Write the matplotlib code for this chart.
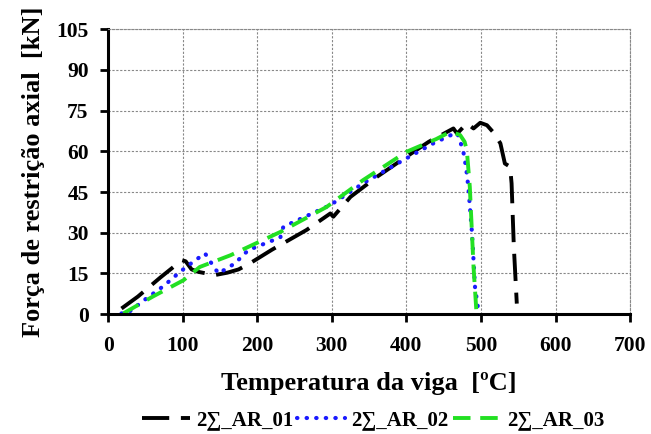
import matplotlib.pyplot as plt

plt.rcParams['font.family'] = ['Liberation Serif', 'DejaVu Serif']
plt.rcParams['font.weight'] = 'bold'

t_ar01 = [18, 40, 70, 99, 104, 112, 121, 143, 160, 175, 190, 220, 266, 298, 302, 325,
          360, 400, 430, 463, 468, 481, 490, 499, 508, 518, 526, 532, 539, 541, 544, 548]
f_ar01 = [2.1, 6.5, 13.5, 19.9, 19.5, 16.5, 15.6, 14.4, 15.3, 16.5, 18.7, 23.8, 31, 37.1,
          35.9, 43.2, 50.5, 58, 63.5, 68.4, 66.5, 70.3, 68.4, 70.5, 69.6, 66.5, 62.9, 55.5,
          54.3, 48.2, 25, 3.9]

t_ar02 = [18, 25, 50, 75, 96.5, 115, 130, 138, 148, 170, 188, 231, 235, 298, 342, 400,
          436, 460, 468, 476, 480, 483, 488, 492, 497]
f_ar02 = [0.3, 0.2, 5.5, 10.5, 15.6, 19.5, 22.4, 19, 15, 18.7, 23.6, 28.3, 32.2, 40.2,
          48.2, 57.4, 62.9, 66, 66.8, 60.4, 54, 46.9, 29.7, 10, 0.3]

t_ar03 = [20.5, 60, 101, 123, 164, 231, 293, 342, 400, 440, 459, 472, 478, 481, 485,
          490, 494]
f_ar03 = [0.3, 6.5, 12.5, 17.4, 21.7, 30.3, 39.5, 49.4, 59.8, 64.5, 67.2, 66, 63.5, 60.4,
          46.9, 17.4, 0.3]

labels = ['2\u2211_AR_01', '2\u2211_AR_02', '2\u2211_AR_03']
x_ticks = list(range(0, 701, 100))
y_ticks = list(range(0, 106, 15))

fig = plt.figure(figsize=(6.51, 4.34), dpi=100)
ax = fig.add_axes([0.166, 0.276, 0.802, 0.657])

ax.plot(t_ar01, f_ar01, color='black', lw=2.8, dashes=(7, 3), label=labels[0])
ax.plot(t_ar02, f_ar02, color='#1a1aff', lw=3, linestyle=(0, (0.1, 2.2)),
        dash_capstyle='round', label=labels[1])
ax.plot(t_ar03, f_ar03, color='#22e022', lw=2.8, dashes=(4.5, 2.5), label=labels[2])

ax.set_xlim(0, 700)
ax.set_ylim(0, 105)
ax.set_xticks(x_ticks)
ax.set_yticks(y_ticks)
ax.grid(True, color='#888888', linestyle=(0, (2, 1.5)), lw=0.8)
ax.tick_params(direction='out', length=6, width=2, labelsize=15.5)
ax.tick_params(axis='x', pad=10)
ax.tick_params(axis='y', pad=8)
for lab in ax.get_xticklabels() + ax.get_yticklabels():
    lab.set_fontweight('bold')

for side in ['left', 'bottom']:
    ax.spines[side].set_linewidth(2.2)
for side in ['top', 'right']:
    ax.spines[side].set_color('#888888')
    ax.spines[side].set_linestyle((0, (2, 1.5)))
    ax.spines[side].set_linewidth(0.8)

ax.set_xlabel('Temperatura da viga  [\u00baC]', fontsize=19, fontweight='bold',
              labelpad=11)
ax.set_ylabel('Força de restrição axial  [kN]', fontsize=19, fontweight='bold', labelpad=8)

fig.legend(loc='lower center', bbox_to_anchor=(0.573, -0.035), ncol=3, frameon=False,
           prop={'size': 15, 'weight': 'bold'}, handlelength=2.3, columnspacing=0.2,
           handletextpad=0.3)

fig.savefig('out.png', dpi=100)
